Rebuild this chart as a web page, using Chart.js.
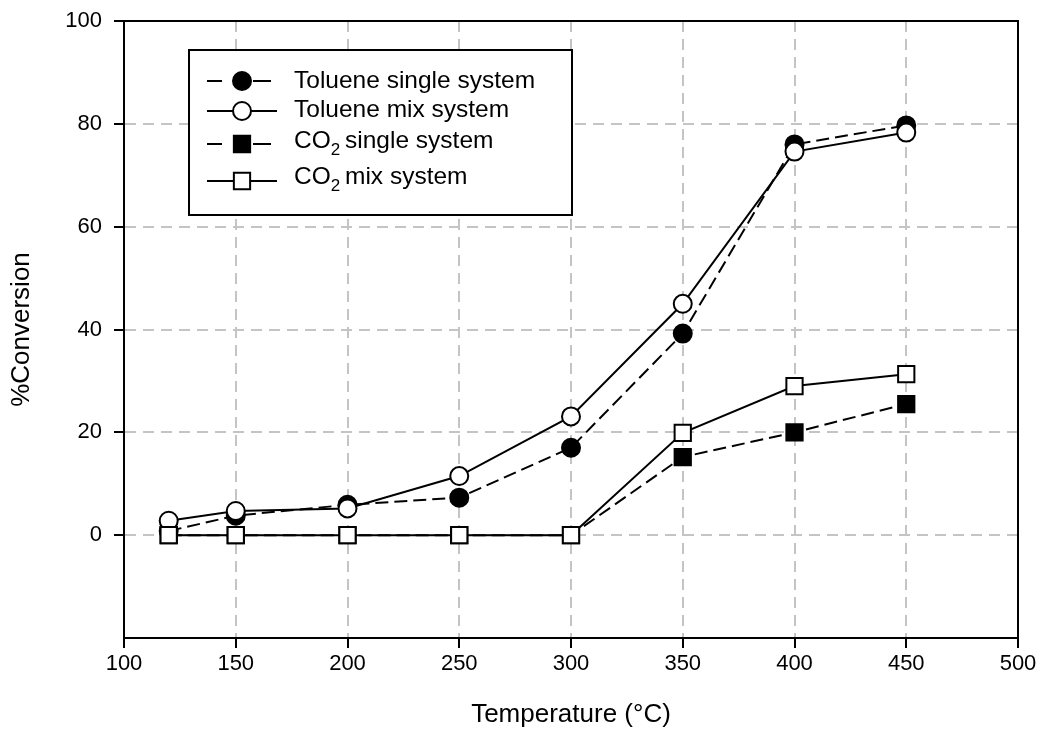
<!DOCTYPE html>
<html>
<head>
<meta charset="utf-8">
<title>Conversion vs temperature</title>
<script src="https://cdn.jsdelivr.net/npm/chart.js@4/dist/chart.umd.min.js"></script>
<style>
    html, body { margin: 0; padding: 0; background: #fff; }
    #wrap { width: 1044px; height: 731px; }
</style>
</head>
<body>
<div id="wrap"><canvas id="convChart" width="1044" height="731"></canvas></div>
<script>
// === data ===
const temps = [120, 150, 200, 250, 300, 350, 400, 450];
const tolueneSingle = [0.8, 3.8, 5.9, 7.3, 17.0, 39.2, 76.0, 79.7];
const tolueneMix = [2.8, 4.7, 5.2, 11.5, 23.1, 45.0, 74.6, 78.3];
const co2Single = [0, 0, 0, 0, 0, 15.2, 20.0, 25.5];
const co2Mix = [0, 0, 0, 0, 0, 19.9, 29.0, 31.3];
const seriesNames = ["Toluene single system", "Toluene mix system", "CO₂ single system", "CO₂ mix system"];

const FONT = "'Liberation Sans', Arial, sans-serif";

function toPoints(values) {
    return temps.map((t, i) => ({ x: t, y: values[i] }));
}

function series(label, values, opts) {
    return Object.assign({
        label,
        data: toPoints(values),
        borderColor: "#000",
        borderWidth: 2,
        pointBorderColor: "#000",
        pointBorderWidth: 2,
        pointHoverRadius: 0,
        tension: 0,
        fill: false,
    }, opts);
}

// frame: top and right edges of the plot box
const framePlugin = {
    id: "frame",
    beforeDatasetsDraw(chart) {
        const { ctx, chartArea: a } = chart;
        ctx.save();
        ctx.strokeStyle = "#000";
        ctx.lineWidth = 2;
        ctx.strokeRect(a.left, a.top, a.right - a.left, a.bottom - a.top);
        ctx.restore();
    }
};

// boxed legend inside the plot, CO2 with a subscript 2
const legendBoxPlugin = {
    id: "legendBox",
    afterDatasetsDraw(chart) {
        const ctx = chart.ctx;
        const box = { x: 189, y: 50, w: 383, h: 165 };
        const rows = [81, 111, 144, 181];
        const textY = [81, 110, 141, 177];

        ctx.save();
        ctx.fillStyle = "#fff";
        ctx.fillRect(box.x, box.y, box.w, box.h);
        ctx.strokeStyle = "#000";
        ctx.lineWidth = 2;
        ctx.strokeRect(box.x, box.y, box.w, box.h);

        chart.data.datasets.forEach((ds, i) => {
            const y = rows[i];
            const mx = 242;
            ctx.strokeStyle = "#000";
            ctx.lineWidth = 2;
            ctx.setLineDash([]);
            ctx.beginPath();
            if (ds.borderDash && ds.borderDash.length) {
                ctx.moveTo(207, y); ctx.lineTo(222, y);
                ctx.moveTo(253, y); ctx.lineTo(271, y);
            } else {
                ctx.moveTo(207, y); ctx.lineTo(277, y);
            }
            ctx.stroke();

            ctx.fillStyle = ds.pointBackgroundColor;
            ctx.beginPath();
            if (ds.pointStyle === "circle") {
                ctx.arc(mx, y, ds.pointRadius, 0, Math.PI * 2);
            } else {
                const s = ds.pointRadius * Math.SQRT1_2;
                ctx.rect(mx - s, y - s, 2 * s, 2 * s);
            }
            ctx.fill();
            ctx.stroke();

            // label text, "₂" drawn as a lowered small 2
            ctx.fillStyle = "#000";
            ctx.textBaseline = "middle";
            ctx.textAlign = "left";
            let x = 294;
            const parts = ds.label.split("₂");
            parts.forEach((part, k) => {
                ctx.font = "24.5px " + FONT;
                ctx.fillText(part, x, textY[i]);
                x += ctx.measureText(part).width;
                if (k < parts.length - 1) {
                    ctx.font = "17px " + FONT;
                    ctx.fillText("2", x, textY[i] + 9);
                    x += ctx.measureText("2").width - 2;
                }
            });
        });
        ctx.restore();
    }
};

const gridColor = "#c4c4c4";

const ctx = document.getElementById("convChart").getContext("2d");
const convChart = new Chart(ctx, {
    type: "line",
    data: {
        datasets: [
            series(seriesNames[0], tolueneSingle, {
                borderDash: [13, 6],
                pointStyle: "circle", pointRadius: 9,
                pointBackgroundColor: "#000", order: 4,
            }),
            series(seriesNames[1], tolueneMix, {
                pointStyle: "circle", pointRadius: 9,
                pointBackgroundColor: "#fff", order: 3,
            }),
            series(seriesNames[2], co2Single, {
                borderDash: [13, 6],
                pointStyle: "rect", pointRadius: 11.5,
                pointBackgroundColor: "#000", order: 2,
            }),
            series(seriesNames[3], co2Mix, {
                pointStyle: "rect", pointRadius: 11.5,
                pointBackgroundColor: "#fff", order: 1,
            }),
        ]
    },
    options: {
        responsive: false,
        animation: false,
        devicePixelRatio: 1,
        layout: { padding: { top: 21, right: 26, left: 0, bottom: 0 } },
        plugins: {
            legend: { display: false },
            tooltip: { enabled: false },
        },
        scales: {
            x: {
                type: "linear",
                min: 100,
                max: 500,
                afterFit(scale) { scale.height = 93; },
                ticks: {
                    stepSize: 50,
                    color: "#000",
                    padding: 3,
                    font: { family: FONT, size: 22 },
                },
                grid: {
                    color: gridColor,
                    lineWidth: 2,
                    tickColor: "#000",
                    tickLength: 10,
                    tickWidth: 2,
                },
                border: { color: "#000", width: 2, dash: [11, 7] },
                title: {
                    display: true,
                    text: "Temperature (°C)",
                    color: "#000",
                    font: { family: FONT, size: 26 },
                    padding: { top: 0, bottom: 1 },
                },
            },
            y: {
                min: -20,
                max: 100,
                afterFit(scale) { scale.width = 124; },
                ticks: {
                    stepSize: 20,
                    color: "#000",
                    padding: 12,
                    // small line height keeps the top label from pushing the plot down
                    font: { family: FONT, size: 22, lineHeight: 0.7 },
                    callback: (v) => (v < 0 ? "" : v),
                },
                grid: {
                    color: gridColor,
                    lineWidth: 2,
                    tickColor: (c) => (c.tick && c.tick.value < 0 ? "rgba(0,0,0,0)" : "#000"),
                    tickLength: 10,
                    tickWidth: 2,
                },
                border: { color: "#000", width: 2, dash: [11, 7] },
                title: {
                    display: true,
                    text: "%Conversion",
                    color: "#000",
                    font: { family: FONT, size: 26 },
                    padding: { top: 6, bottom: 0 },
                },
            },
        },
    },
    plugins: [framePlugin, legendBoxPlugin],
});
</script>
</body>
</html>
